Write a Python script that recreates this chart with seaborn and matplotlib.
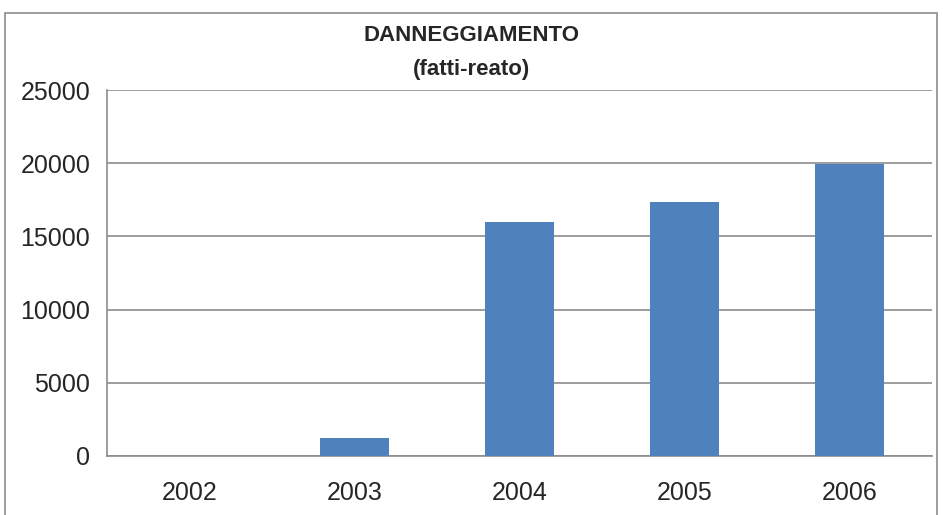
import matplotlib
matplotlib.use("Agg")
import matplotlib.pyplot as plt
import pandas as pd
import seaborn as sns
from matplotlib.patches import Rectangle


YEARS = ["2002", "2003", "2004", "2005", "2006"]
COUNTS = [0, 1200, 15980, 17350, 19960]
Y_TICKS = [0, 5000, 10000, 15000, 20000, 25000]
TITLE = "DANNEGGIAMENTO\n(fatti-reato)"


def main() -> None:
    sns.set_theme(style="white")
    plt.rcParams["font.family"] = ["Liberation Sans", "DejaVu Sans"]

    df = pd.DataFrame({"anno": YEARS, "fatti": COUNTS})

    fig = plt.figure(figsize=(9.43, 5.15), dpi=100)
    ax = fig.add_axes([0.1135, 0.1146, 0.8745, 0.7104])

    sns.barplot(data=df, x="anno", y="fatti", color="#4F81BD", width=0.42,
                saturation=1, linewidth=0, ax=ax, zorder=3)

    ax.set_ylim(0, 25000)
    ax.set_xlim(-0.5, len(YEARS) - 0.5)
    ax.set_yticks(Y_TICKS)
    ax.set_yticklabels([str(v) for v in Y_TICKS], fontsize=18)
    ax.set_xticks(range(len(YEARS)))
    ax.set_xticklabels(YEARS, fontsize=18)
    ax.set_xlabel("")
    ax.set_ylabel("")

    ax.yaxis.grid(True, color="#8c8c8c", linewidth=1.2)
    ax.set_axisbelow(True)
    for side in ["top", "right"]:
        ax.spines[side].set_visible(False)
    for side in ["left", "bottom"]:
        ax.spines[side].set_color("#8c8c8c")
        ax.spines[side].set_linewidth(1.2)

    # y ticks outward, x ticks at category boundaries
    ax.tick_params(axis="y", direction="out", length=6, color="#8c8c8c", width=1.2, pad=6)
    ax.tick_params(axis="x", length=0, pad=18)
    ax.set_xticks([i - 0.5 for i in range(len(YEARS) + 1)], minor=True)
    ax.tick_params(axis="x", which="minor", direction="out", length=8, color="#8c8c8c", width=1.2)

    fig.text(0.5, 0.898, TITLE, ha="center", va="center", fontsize=16,
             fontweight="bold", linespacing=1.85)

    # chart area border
    fig.patches.append(Rectangle((5 / 943, -0.05), 932 / 943, 1.05 - 13 / 515,
                                 transform=fig.transFigure, fill=False,
                                 edgecolor="#8c8c8c", linewidth=1.2))

    fig.savefig("out.png", dpi=100)
    plt.close(fig)


if __name__ == "__main__":
    main()
